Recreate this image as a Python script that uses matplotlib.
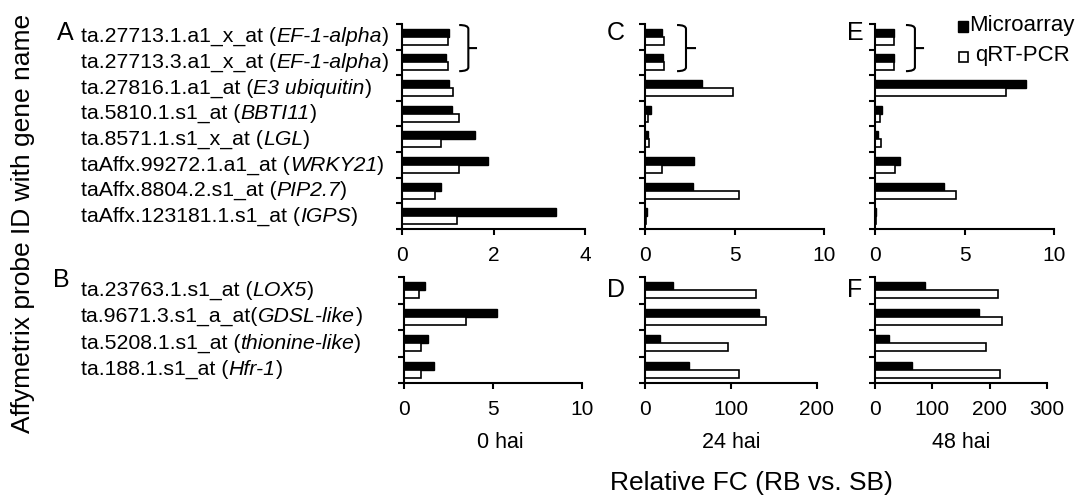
import numpy as np
import matplotlib.pyplot as plt
from matplotlib.path import Path
from matplotlib.patches import PathPatch, Rectangle

plt.rcParams['font.family'] = ['Liberation Sans', 'DejaVu Sans']

# probe IDs and gene names
top_ids = ["ta.27713.1.a1_x_at", "ta.27713.3.a1_x_at", "ta.27816.1.a1_at", "ta.5810.1.s1_at",
           "ta.8571.1.s1_x_at", "taAffx.99272.1.a1_at", "taAffx.8804.2.s1_at", "taAffx.123181.1.s1_at"]
top_genes = ["EF-1-alpha", "EF-1-alpha", "E3 ubiquitin", "BBTI11", "LGL", "WRKY21", "PIP2.7", "IGPS"]
top_sep = [" (", " (", " (", " (", " (", " (", " (", " ("]

bottom_ids = ["ta.23763.1.s1_at", "ta.9671.3.s1_a_at", "ta.5208.1.s1_at", "ta.188.1.s1_at"]
bottom_genes = ["LOX5", "GDSL-like", "thionine-like", "Hfr-1"]
bottom_sep = [" (", "(", " (", " ("]

# relative FC, top group (A, C, E)
hai0_micro = [1.03, 0.96, 1.03, 1.09, 1.60, 1.87, 0.85, 3.36]
hai0_qpcr = [1.01, 1.01, 1.12, 1.25, 0.85, 1.25, 0.72, 1.20]
hai24_micro = [0.97, 0.98, 3.16, 0.35, 0.19, 2.75, 2.70, 0.10]
hai24_qpcr = [1.04, 1.04, 4.94, 0.15, 0.24, 0.97, 5.24, 0.07]
hai48_micro = [1.08, 1.08, 8.42, 0.41, 0.17, 1.41, 3.88, 0.05]
hai48_qpcr = [1.04, 1.04, 7.30, 0.30, 0.33, 1.10, 4.52, 0.03]

# relative FC, bottom group (B, D, F)
b0_micro = [1.20, 5.22, 1.35, 1.67]
b0_qpcr = [0.83, 3.47, 0.94, 0.94]
b24_micro = [32, 133, 17, 51]
b24_qpcr = [129, 141, 97, 109]
b48_micro = [88, 182, 24, 65]
b48_qpcr = [214, 222, 193, 218]

W, H = 1079, 503
fig = plt.figure(figsize=(W / 100, H / 100), dpi=100)


def px_axes(x0, x1, y0, y1):
    return fig.add_axes([x0 / W, 1 - y1 / H, (x1 - x0) / W, (y1 - y0) / H])


def fx(x):
    return x / W


def fy(y):
    return 1 - y / H


def bar_panel(ax, micro, qpcr, xmax, xticks):
    n = len(micro)
    y = np.arange(n) + 0.5
    h = 0.31
    ax.barh(y - h / 2, micro, height=h, color='black', edgecolor='black', linewidth=1)
    ax.barh(y + h / 2, qpcr, height=h, color='white', edgecolor='black', linewidth=1.2)
    ax.set_ylim(n, 0)
    ax.set_xlim(0, xmax)
    ax.set_yticks(np.arange(n + 1))
    ax.set_yticklabels([])
    ax.set_xticks(xticks)
    ax.set_xticklabels([str(t) for t in xticks])
    for s in ['top', 'right']:
        ax.spines[s].set_visible(False)
    for s in ['left', 'bottom']:
        ax.spines[s].set_linewidth(1.5)
    ax.tick_params(direction='out', length=4, width=1.5, labelsize=15, pad=8)
    ax.margins(0)


def bracket(ax, xl, xm, xt, yt, yb, r=0.15):
    ym = (yt + yb) / 2
    verts = [(xl, yt), (xm, yt), (xm, yt + r), (xm, yb - r), (xm, yb), (xl, yb),
             (xm, ym), (xt, ym)]
    codes = [Path.MOVETO, Path.CURVE3, Path.CURVE3, Path.LINETO, Path.CURVE3, Path.CURVE3,
             Path.MOVETO, Path.LINETO]
    ax.add_patch(PathPatch(Path(verts, codes), fill=False, lw=1.5, color='black', clip_on=False))


axA = px_axes(402, 585, 24, 229)
axC = px_axes(645, 824, 24, 229)
axE = px_axes(875, 1054, 24, 229)
axB = px_axes(404, 582, 277, 383)
axD = px_axes(645, 817, 277, 383)
axF = px_axes(875, 1047, 277, 383)

bar_panel(axA, hai0_micro, hai0_qpcr, 4, [0, 2, 4])
bar_panel(axC, hai24_micro, hai24_qpcr, 10, [0, 5, 10])
bar_panel(axE, hai48_micro, hai48_qpcr, 10, [0, 5, 10])
bar_panel(axB, b0_micro, b0_qpcr, 10, [0, 5, 10])
bar_panel(axD, b24_micro, b24_qpcr, 200, [0, 100, 200])
bar_panel(axF, b48_micro, b48_qpcr, 300, [0, 100, 200, 300])

bracket(axA, 1.25, 1.45, 1.64, 0.04, 1.84)
bracket(axC, 1.79, 2.29, 2.85, 0.04, 1.84)
bracket(axE, 1.73, 2.23, 2.74, 0.04, 1.84)


def probe_labels(ax, ids, seps, genes, n, y0, y1):
    step = (y1 - y0) / n
    for i in range(n):
        yc = y0 + step * (i + 0.5)
        t1 = ax.annotate(ids[i] + seps[i], xy=(fx(81), fy(yc)), xycoords='figure fraction',
                         ha='left', va='center', fontsize=15.3, annotation_clip=False)
        t2 = ax.annotate(genes[i], xy=(1, 0), xycoords=t1, ha='left', va='bottom',
                         fontsize=15.3, style='italic', annotation_clip=False)
        ax.annotate(")", xy=(1, 0), xycoords=t2, ha='left', va='bottom',
                    fontsize=15.3, annotation_clip=False)


probe_labels(axA, top_ids, top_sep, top_genes, 8, 24, 229)
probe_labels(axB, bottom_ids, bottom_sep, bottom_genes, 4, 277, 383)

# panel letters
for letter, x, y in [("A", 57, 33), ("C", 607, 33), ("E", 847, 33),
                     ("B", 53, 280), ("D", 607, 290), ("F", 847, 290)]:
    fig.text(fx(x), fy(y), letter, fontsize=18, ha='left', va='center')

# time labels
for lab, x in [("0 hai", 500), ("24 hai", 731), ("48 hai", 961)]:
    fig.text(fx(x), fy(443), lab, fontsize=15.5, ha='center', va='center')

fig.text(fx(751), fy(483), "Relative FC (RB vs. SB)", fontsize=19, ha='center', va='center')
fig.text(fx(23), fy(223), "Affymetrix probe ID with gene name", fontsize=19,
         rotation=90, ha='center', va='center')

# legend
fig.add_artist(Rectangle((fx(958), fy(32)), 10 / W, 11 / H, transform=fig.transFigure,
                         facecolor='black', edgecolor='black', lw=1))
fig.add_artist(Rectangle((fx(959), fy(62)), 9 / W, 10 / H, transform=fig.transFigure,
                         facecolor='white', edgecolor='black', lw=1.2))
fig.text(fx(969), fy(26), "Microarray", fontsize=16, ha='left', va='center')
fig.text(fx(975), fy(56), "qRT-PCR", fontsize=16, ha='left', va='center')

fig.savefig('out.png', dpi=100)
